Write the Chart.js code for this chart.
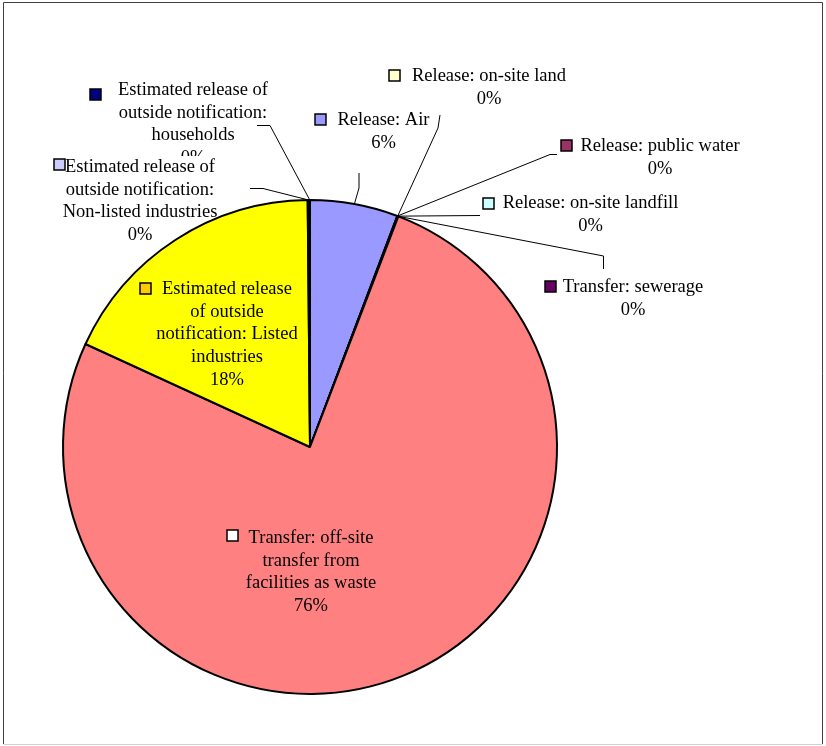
<!DOCTYPE html>
<html>
<head>
<meta charset="utf-8">
<title>Release and transfer breakdown</title>
<script src="https://cdn.jsdelivr.net/npm/chart.js@4/dist/chart.umd.min.js"></script>
<style>
  html, body { margin: 0; padding: 0; background: #fff; }
  canvas { display: block; }
</style>
</head>
<body>
<canvas id="myChart" width="826" height="746"></canvas>
<script>
// slices, clockwise from 12 o'clock
var categories = [
    'Release: Air',
    'Release: public water',
    'Release: on-site land',
    'Release: on-site landfill',
    'Transfer: sewerage',
    'Transfer: off-site transfer from facilities as waste',
    'Estimated release of outside notification: Listed industries',
    'Estimated release of outside notification: Non-listed industries',
    'Estimated release of outside notification: households'
];
var shares = [5.75, 0.02, 0.01, 0.01, 0.03, 76.0, 18.0, 0.12, 0.03];

var sliceColors = ['#9999FF', '#993366', '#FFFFCC', '#CCFFFF', '#660066', '#FF8080', '#FFFF00', '#CCCCFF', '#000080'];
var keyColors   = ['#9999FF', '#993366', '#FFFFCC', '#CCFFFF', '#660066', '#FFFFFF', '#FFCC00', '#CCCCFF', '#000080'];

// label placement: text centre x, first line y, key square top-left, wrap width, leader bends
var labelLayout = [
    { cx: 383.5, y: 120, key: [315, 114], wrap: 300, leader: [[359, 188], [359, 173]] },
    { cx: 660,   y: 146, key: [561, 140], wrap: 300, leader: [[550, 154.5], [557, 154.5]] },
    { cx: 489,   y: 76,  key: [389, 70],  wrap: 300, leader: [[438, 128], [440, 115]] },
    { cx: 590.5, y: 203, key: [483, 198], wrap: 300, leader: [[480, 215.5]] },
    { cx: 633,   y: 287, key: [545, 281], wrap: 300, leader: [[603.5, 256], [603.5, 269]] },
    { cx: 311,   y: 538, key: [227, 530], wrap: 132 },
    { cx: 227,   y: 289, key: [140, 283], wrap: 142 },
    { cx: 140,   y: 167, key: [54, 159],  wrap: 160, leader: [[263, 188.5], [250, 188.5]], clear: true },
    { cx: 193,   y: 90,  key: [90, 89],   wrap: 160, leader: [[270, 125.5], [257, 125.5]] }
];

var lineGap = 22.7;

function wrapText(ctx, text, maxW) {
    var words = text.split(' ');
    var lines = [];
    var cur = '';
    words.forEach(function(w) {
        var test = cur ? cur + ' ' + w : w;
        if (cur && ctx.measureText(test).width > maxW) {
            lines.push(cur);
            cur = w;
        } else {
            cur = test;
        }
    });
    if (cur) lines.push(cur);
    return lines;
}

var pieLabels = {
    id: 'pieLabels',
    afterDatasetsDraw: function(chart) {
        var ctx = chart.ctx;
        var arcs = chart.getDatasetMeta(0).data;
        var total = shares.reduce(function(a, b) { return a + b; }, 0);
        ctx.save();

        // leader lines from the middle of each slice's rim
        ctx.strokeStyle = '#000';
        ctx.lineWidth = 1;
        arcs.forEach(function(arc, i) {
            var pts = labelLayout[i].leader;
            if (!pts) return;
            var mid = (arc.startAngle + arc.endAngle) / 2;
            ctx.beginPath();
            ctx.moveTo(arc.x + Math.cos(mid) * arc.outerRadius, arc.y + Math.sin(mid) * arc.outerRadius);
            pts.forEach(function(p) { ctx.lineTo(p[0], p[1]); });
            ctx.stroke();
        });

        ctx.font = '18.5px "Liberation Serif", "Times New Roman", serif';
        ctx.textAlign = 'center';
        ctx.textBaseline = 'middle';

        // labels with a white top strip go last so they sit on top
        var order = [];
        labelLayout.forEach(function(l, i) { if (!l.clear) order.push(i); });
        labelLayout.forEach(function(l, i) { if (l.clear) order.push(i); });

        order.forEach(function(i) {
            var lay = labelLayout[i];
            var lines = wrapText(ctx, categories[i], lay.wrap);
            lines.push(Math.round(shares[i] / total * 100) + '%');

            if (lay.clear) {
                var w = ctx.measureText(lines[0]).width;
                ctx.fillStyle = '#fff';
                ctx.fillRect(lay.cx - w / 2, lay.y - 11, w, lineGap);
            }

            ctx.fillStyle = '#000';
            lines.forEach(function(t, k) {
                ctx.fillText(t, lay.cx, lay.y + k * lineGap);
            });

            // colour key
            ctx.fillStyle = keyColors[i];
            ctx.fillRect(lay.key[0], lay.key[1], 11, 11);
            ctx.lineWidth = 1.5;
            ctx.strokeStyle = '#000';
            ctx.strokeRect(lay.key[0], lay.key[1], 11, 11);
        });

        // outer frame
        ctx.lineWidth = 1;
        ctx.strokeStyle = '#404040';
        ctx.beginPath();
        ctx.moveTo(3.5, 744);
        ctx.lineTo(3.5, 2.5);
        ctx.lineTo(822.5, 2.5);
        ctx.lineTo(822.5, 744);
        ctx.stroke();
        ctx.strokeStyle = '#d0d0d0';
        ctx.beginPath();
        ctx.moveTo(3.5, 744.5);
        ctx.lineTo(822.5, 744.5);
        ctx.stroke();

        ctx.restore();
    }
};

var chart = new Chart(document.getElementById('myChart').getContext('2d'), {
    type: 'pie',
    data: {
        labels: categories,
        datasets: [{
            data: shares,
            backgroundColor: sliceColors,
            borderColor: '#000',
            borderWidth: 2
        }]
    },
    options: {
        responsive: false,
        animation: false,
        layout: { padding: { left: 62, right: 268, top: 199, bottom: 51 } },
        plugins: {
            legend: { display: false },
            tooltip: { enabled: false }
        }
    },
    plugins: [pieLabels]
});
</script>
</body>
</html>
